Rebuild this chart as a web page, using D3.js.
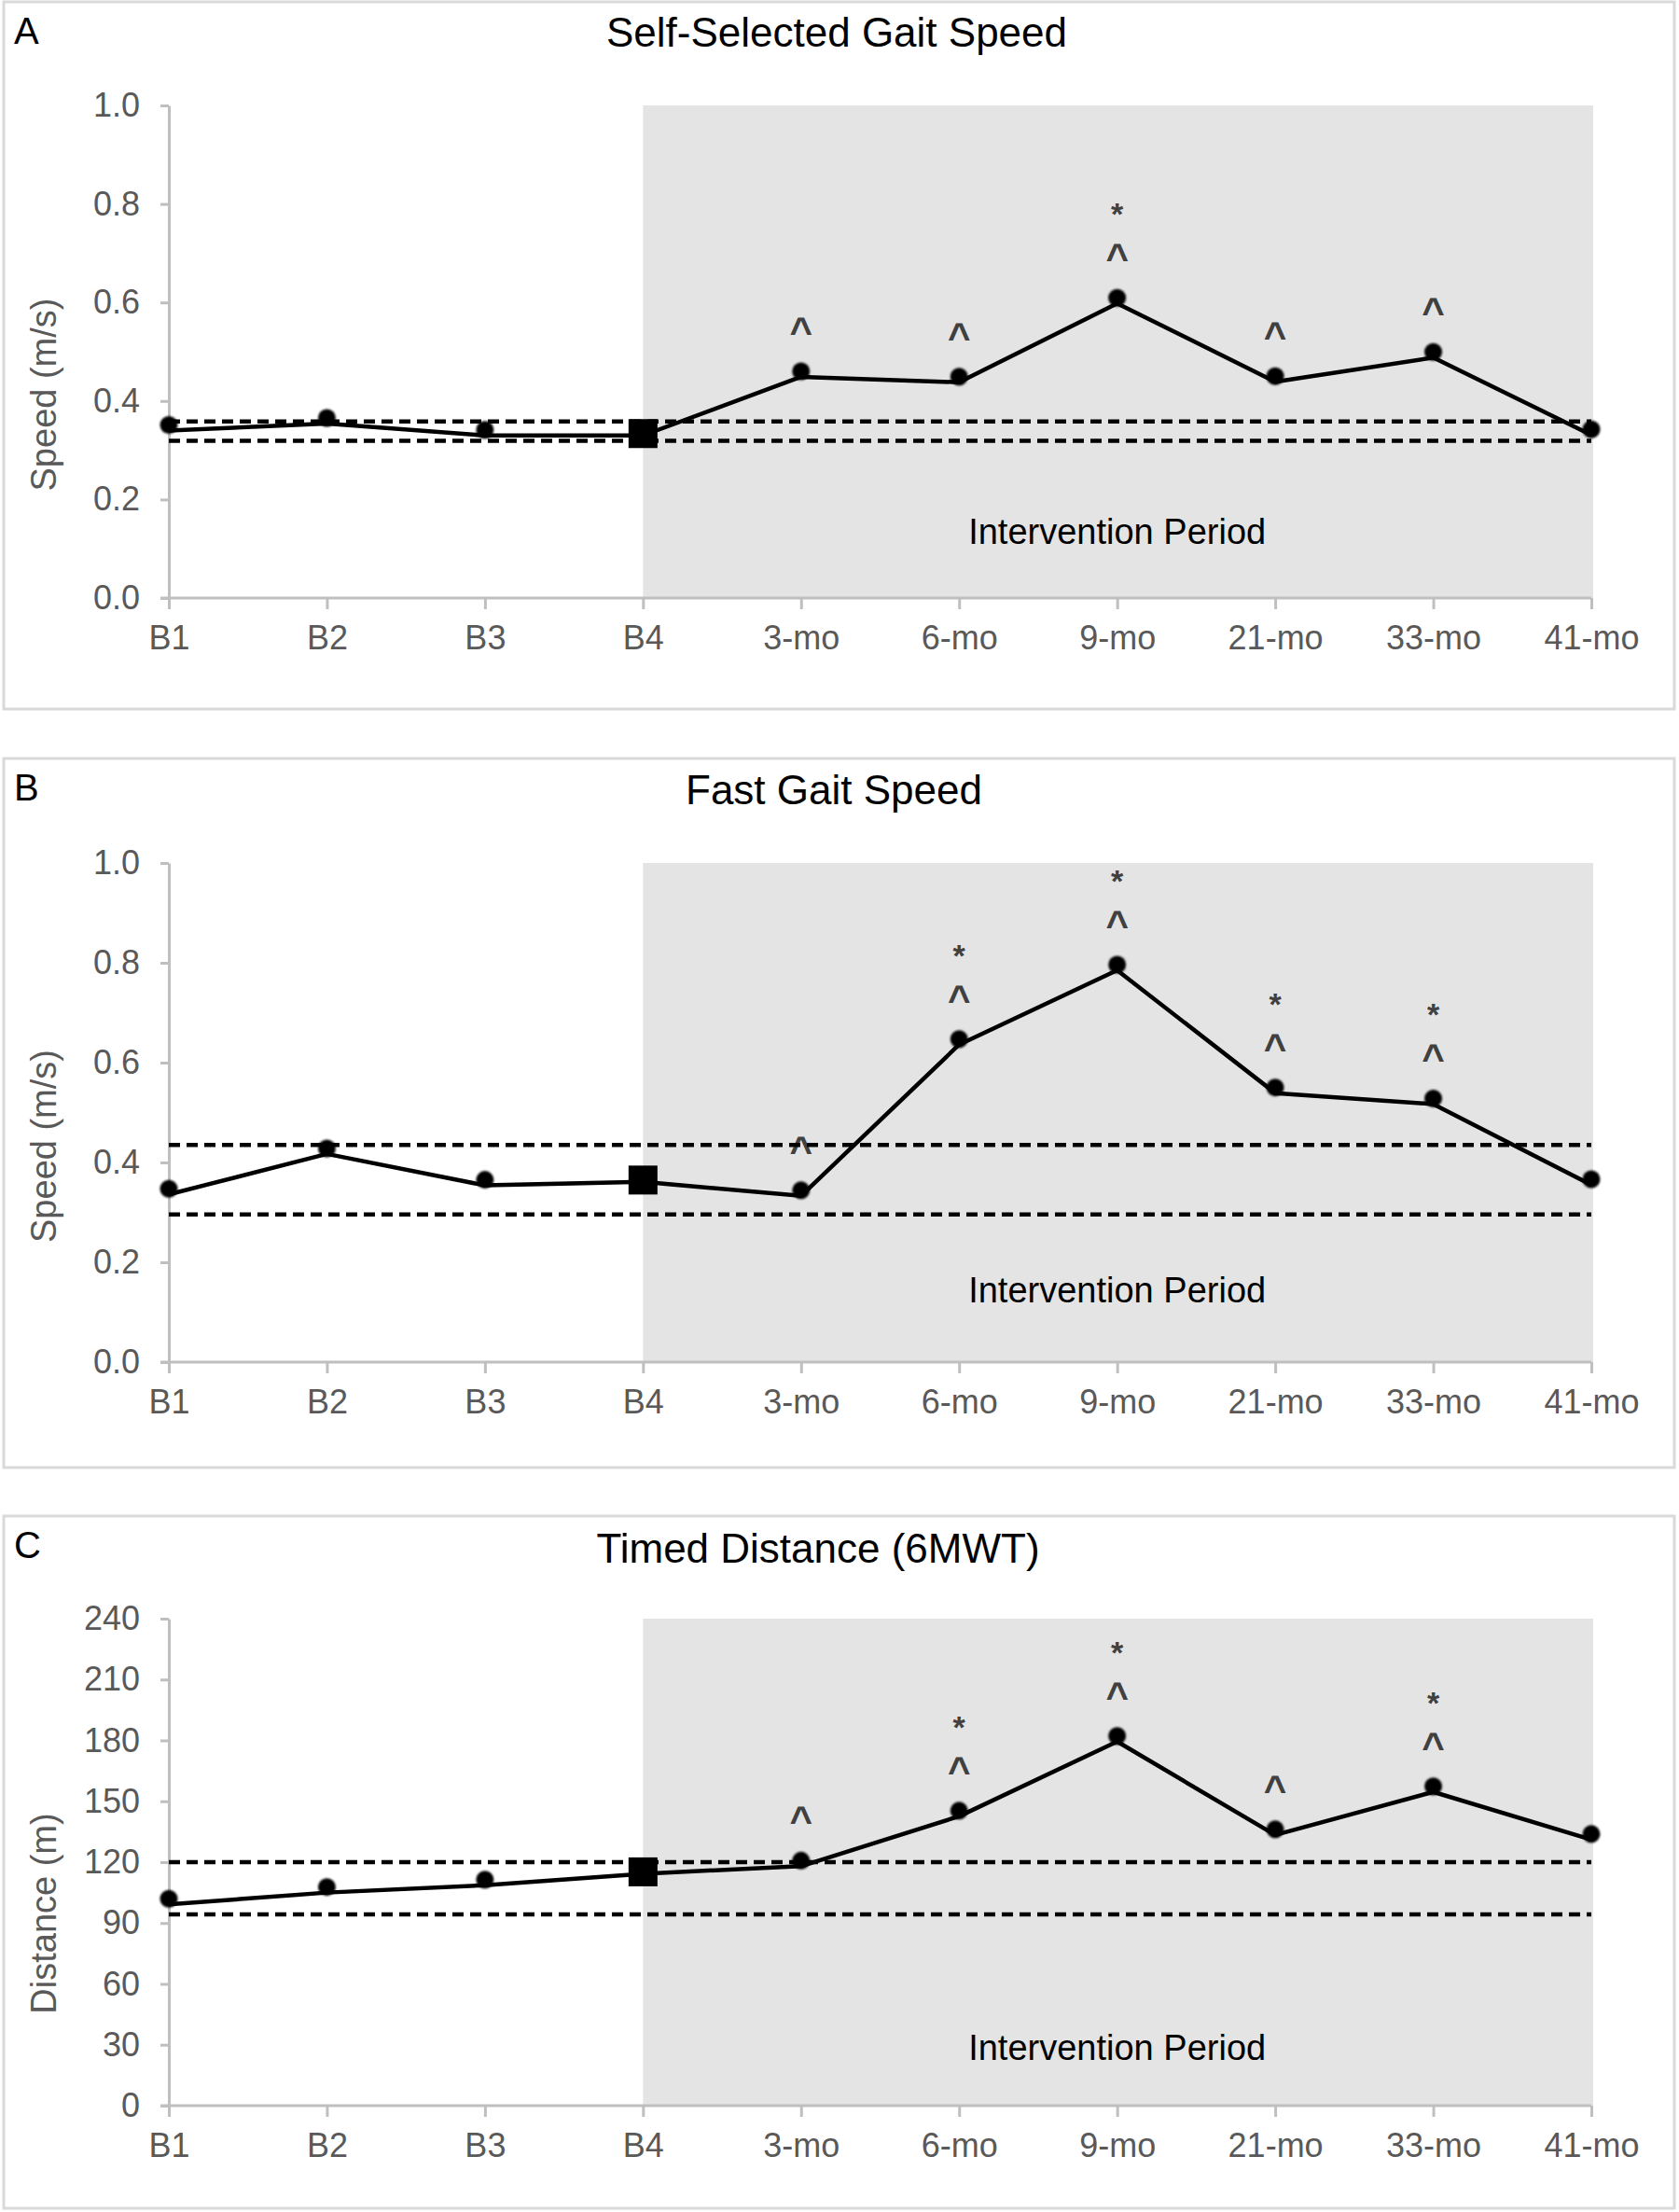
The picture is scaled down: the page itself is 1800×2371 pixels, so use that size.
<!DOCTYPE html>
<html>
<head>
<meta charset="utf-8">
<script src="https://cdn.jsdelivr.net/npm/d3@7"></script>
<style>
  body { margin: 0; background: #fff; }
  svg { display: block; font-family: "Liberation Sans", Arial, sans-serif; }
</style>
</head>
<body>
<svg id="chart" width="1800" height="2371"></svg>
<script>
// categories and series
const categories = ['B1', 'B2', 'B3', 'B4', '3-mo', '6-mo', '9-mo', '21-mo', '33-mo', '41-mo'];
const selfSpeed = [0.340, 0.354, 0.330, 0.330, 0.449, 0.438, 0.598, 0.439, 0.488, 0.331];
const fastSpeed = [0.336, 0.417, 0.354, 0.361, 0.333, 0.636, 0.785, 0.539, 0.517, 0.355];
const distance6MWT = [99.2, 105, 108.6, 114.3, 118, 142.6, 179.4, 133.4, 154.6, 131.1];

// baseline band (dashed lines): [lower, upper]
const selfBand = [0.319, 0.3585];
const fastBand = [0.296, 0.435];
const distanceBand = [94.3, 120];

// significance marks above each point
const selfMarks = ['', '', '', '', '^', '^', '^*', '^', '^', ''];
const fastMarks = ['', '', '', '', '^', '^*', '^*', '^*', '^*', ''];
const distanceMarks = ['', '', '', '', '^', '^*', '^*', '^', '^*', ''];

const speedTicks = [0, 0.2, 0.4, 0.6, 0.8, 1.0];
const distanceTicks = [0, 30, 60, 90, 120, 150, 180, 210, 240];

const panelLetters = ['A', 'B', 'C'];
const panelTitles = ['Self-Selected Gait Speed', 'Fast Gait Speed', 'Timed Distance (6MWT)'];
const yTitles = ['Speed (m/s)', 'Speed (m/s)', 'Distance (m)'];
const interventionText = 'Intervention Period';
const interventionStart = 'B4';

const panels = [
    { values: selfSpeed, band: selfBand, marks: selfMarks, ticks: speedTicks, fmt: d3.format('.1f'), labelValue: 0.11 },
    { values: fastSpeed, band: fastBand, marks: fastMarks, ticks: speedTicks, fmt: d3.format('.1f'), labelValue: 0.12 },
    { values: distance6MWT, band: distanceBand, marks: distanceMarks, ticks: distanceTicks, fmt: d3.format('d'), labelValue: 22.4 }
];

// page layout (pixels)
const layout = [
    { top: 2, bottom: 760, plotTop: 113, plotBottom: 641, titleX: 897, titleY: 50, letterY: 47, yTitleShift: 46 },
    { top: 813, bottom: 1573, plotTop: 925, plotBottom: 1460, titleX: 894, titleY: 862, letterY: 858, yTitleShift: 36 },
    { top: 1625, bottom: 2367, plotTop: 1735, plotBottom: 2257, titleX: 877, titleY: 1675, letterY: 1670, yTitleShift: 55 }
];

const axisGray = '#bfbfbf';
const textGray = '#595959';
const svg = d3.select('#chart');

// soft edge for the round markers
svg.append('defs').append('filter')
    .attr('id', 'soft')
    .append('feGaussianBlur')
    .attr('stdDeviation', 1.2);

const x = d3.scalePoint().domain(categories).range([181, 1706]);

panels.forEach((p, i) => {
    const L = layout[i];
    const g = svg.append('g');
    const y = d3.scaleLinear()
        .domain([0, d3.max(p.ticks)])
        .range([L.plotBottom, L.plotTop]);

    // panel frame
    g.append('rect')
        .attr('x', 4).attr('y', L.top)
        .attr('width', 1791).attr('height', L.bottom - L.top)
        .attr('fill', 'none')
        .attr('stroke', '#d9d9d9')
        .attr('stroke-width', 3);

    // letter + title
    g.append('text')
        .attr('x', 15).attr('y', L.letterY)
        .attr('font-size', 40)
        .text(panelLetters[i]);

    g.append('text')
        .attr('x', L.titleX).attr('y', L.titleY)
        .attr('text-anchor', 'middle')
        .attr('font-size', 44)
        .text(panelTitles[i]);

    // intervention shading
    g.append('rect')
        .attr('x', x(interventionStart))
        .attr('y', y(d3.max(p.ticks)))
        .attr('width', x(categories[categories.length - 1]) + 2 - x(interventionStart))
        .attr('height', y(0) - y(d3.max(p.ticks)))
        .attr('fill', '#e4e4e4');

    g.append('text')
        .attr('x', x('9-mo'))
        .attr('y', y(p.labelValue))
        .attr('text-anchor', 'middle')
        .attr('font-size', 38)
        .text(interventionText);

    // axes
    const yAxis = d3.axisLeft(y)
        .tickValues(p.ticks)
        .tickFormat(p.fmt)
        .tickSize(9)
        .tickSizeOuter(0)
        .tickPadding(22);

    const gy = g.append('g')
        .attr('transform', `translate(${x.range()[0]},0)`)
        .call(yAxis);

    const xAxis = d3.axisBottom(x)
        .tickSize(12)
        .tickSizeOuter(0)
        .tickPadding(17);

    const gx = g.append('g')
        .attr('transform', `translate(0,${y(0)})`)
        .call(xAxis);

    [gy, gx].forEach(a => {
        a.select('.domain').attr('stroke', axisGray).attr('stroke-width', 3);
        a.selectAll('.tick line').attr('stroke', axisGray).attr('stroke-width', 3);
        a.selectAll('.tick text')
            .attr('fill', textGray)
            .attr('font-size', 36)
            .attr('font-family', '"Liberation Sans", Arial, sans-serif');
    });
    gx.select('.domain').attr('d', `M${x.range()[0] - 9},0H${x.range()[1]}`);

    // y axis title
    const midY = (L.plotTop + L.plotBottom) / 2 + L.yTitleShift;
    g.append('text')
        .attr('transform', `translate(47,${midY}) rotate(-90)`)
        .attr('text-anchor', 'middle')
        .attr('dominant-baseline', 'central')
        .attr('fill', textGray)
        .attr('font-size', 38)
        .text(yTitles[i]);

    // significance marks (drawn under the dashed lines)
    p.marks.forEach((m, j) => {
        const cx = x(categories[j]);
        if (m.includes('*')) {
            g.append('text')
                .attr('x', cx).attr('y', y(p.values[j]) - 84)
                .attr('text-anchor', 'middle')
                .attr('font-size', 34)
                .attr('font-weight', 'bold')
                .attr('fill', '#404040')
                .text('*');
        }
        if (m.includes('^')) {
            g.append('text')
                .attr('x', cx).attr('y', y(p.values[j]) - 34)
                .attr('text-anchor', 'middle')
                .attr('font-size', 42)
                .attr('font-weight', 'bold')
                .attr('fill', '#404040')
                .text('^');
        }
    });

    // baseline band
    p.band.forEach(v => {
        g.append('line')
            .attr('x1', x.range()[0]).attr('x2', x.range()[1])
            .attr('y1', y(v)).attr('y2', y(v))
            .attr('stroke', '#000')
            .attr('stroke-width', 4.5)
            .attr('stroke-dasharray', '12,7');
    });

    // series line
    const line = d3.line()
        .x((d, j) => x(categories[j]))
        .y(d => y(d));

    g.append('path')
        .attr('d', line(p.values))
        .attr('fill', 'none')
        .attr('stroke', '#000')
        .attr('stroke-width', 4.5)
        .attr('stroke-linejoin', 'round');

    // markers: square at last baseline, dots elsewhere
    p.values.forEach((v, j) => {
        const cx = x(categories[j]);
        if (categories[j] === interventionStart) {
            g.append('rect')
                .attr('x', cx - 15.5).attr('y', y(v) - 2 - 15.5)
                .attr('width', 31).attr('height', 31)
                .attr('fill', '#000');
        } else {
            g.append('circle')
                .attr('cx', cx).attr('cy', y(v) - 6)
                .attr('r', 9.5)
                .attr('fill', '#000')
                .attr('filter', 'url(#soft)');
        }
    });
});
</script>
</body>
</html>
